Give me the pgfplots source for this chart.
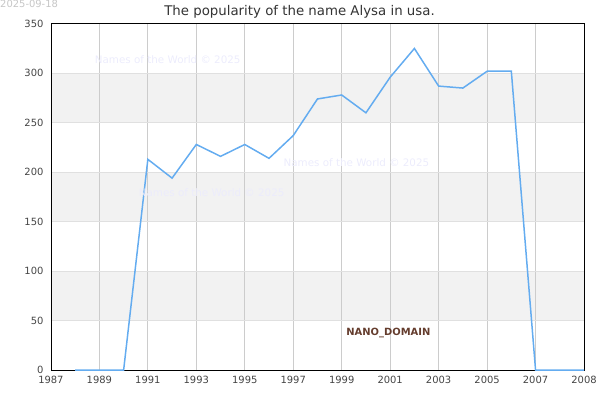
\documentclass[border=0pt]{standalone}
\usepackage{pgfplots}
\pgfplotsset{compat=1.18}
\usepackage{fontspec}
\setmainfont{DejaVu Sans}
\definecolor{linec}{RGB}{100,172,240}
\definecolor{bandc}{RGB}{242,242,242}
\definecolor{vgrid}{RGB}{204,204,204}
\definecolor{hgrid}{RGB}{224,224,224}
\definecolor{tickc}{RGB}{68,68,68}
\definecolor{wmark}{RGB}{236,236,252}
\definecolor{nano}{RGB}{100,60,45}
\begin{document}
\begin{tikzpicture}
\begin{axis}[
  set layers,
  at={(51bp,30bp)}, anchor=south west,
  scale only axis, width=534bp, height=347bp,
  xmin=1987, xmax=2009, ymin=0, ymax=350,
  xtick={1987,1989,1991,1993,1995,1997,1999,2001,2003,2005,2007,2009},
  xticklabels={1987,1989,1991,1993,1995,1997,1999,2001,2003,2005,2007,2008},
  ytick={0,50,...,350},
  /pgf/number format/assume math mode=true,
  tick label style={font=\fontsize{10}{11}\selectfont, text=tickc},
  major tick length=0pt,
  xmajorgrids, ymajorgrids,
  x grid style={vgrid, line width=0.8pt},
  y grid style={hgrid, line width=0.6pt},
  axis line style={black, line width=0.8pt},
  xticklabel shift=2pt, yticklabel shift=4pt,
]
\addplot[on layer=axis background, fill=bandc, draw=none] coordinates {(1987,250) (2009,250) (2009,300) (1987,300)} -- cycle;
\addplot[on layer=axis background, fill=bandc, draw=none] coordinates {(1987,150) (2009,150) (2009,200) (1987,200)} -- cycle;
\addplot[on layer=axis background, fill=bandc, draw=none] coordinates {(1987,50) (2009,50) (2009,100) (1987,100)} -- cycle;
\addplot[linec, line width=1.5pt, mark=none] coordinates {
(1988,0) (1989,0) (1990,0) (1991,213) (1992,194) (1993,228) (1994,216)
(1995,228) (1996,214) (1997,237) (1998,274) (1999,278) (2000,260)
(2001,296) (2002,325) (2003,287) (2004,285) (2005,302) (2006,302)
(2007,0) (2008,0) (2009,0)
};
\end{axis}
\path (0bp,0bp) rectangle (600bp,400bp);
\node[text=gray!45, font=\fontsize{10}{11}\selectfont, anchor=west, inner sep=0pt] at (0bp,397bp) {2025-09-18};
\node[text=black!80, font=\fontsize{13.4}{14}\selectfont] at (300bp,389bp) {The popularity of the name Alysa in usa.};
\node[text=wmark, font=\fontsize{10.4}{11}\selectfont] at (168bp,341bp) {Names of the World © 2025};
\node[text=wmark, font=\fontsize{10.4}{11}\selectfont] at (357bp,238bp) {Names of the World © 2025};
\node[text=wmark, font=\fontsize{10.4}{11}\selectfont] at (212bp,208bp) {Names of the World © 2025};
\node[text=nano, font=\fontsize{10}{11}\selectfont\bfseries] at (389bp,67bp) {NANO\_DOMAIN};
\end{tikzpicture}
\end{document}
